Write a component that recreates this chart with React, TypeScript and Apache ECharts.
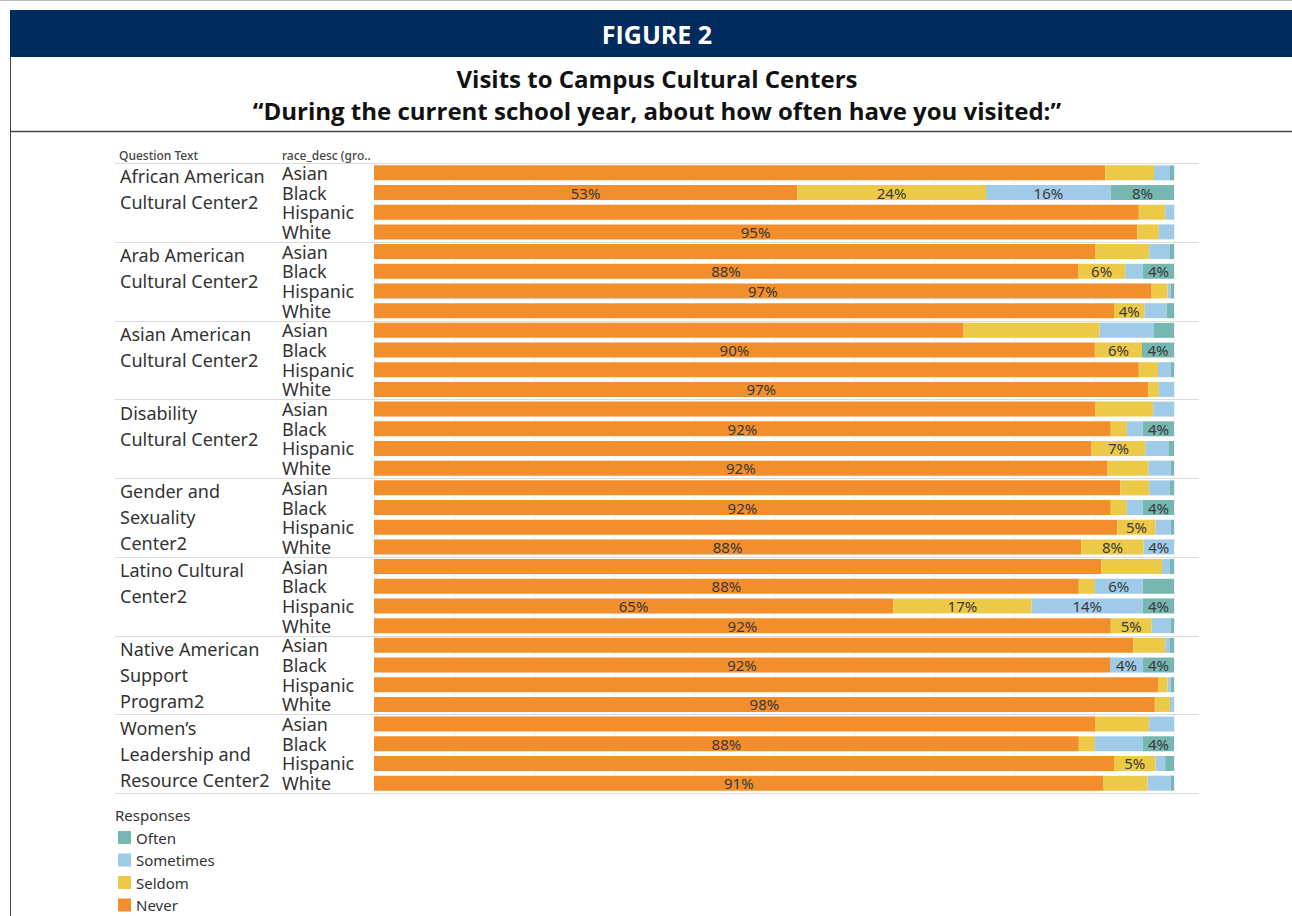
import React, { useEffect, useRef } from "react";
import * as echarts from "echarts";

// ---------- data ----------
const groups = [
  "African American\nCultural Center2",
  "Arab American\nCultural Center2",
  "Asian American\nCultural Center2",
  "Disability\nCultural Center2",
  "Gender and\nSexuality\nCenter2",
  "Latino Cultural\nCenter2",
  "Native American\nSupport\nProgram2",
  "Women\u2019s\nLeadership and\nResource Center2",
];
const races = ["Asian", "Black", "Hispanic", "White"];

const responses = ["Often", "Sometimes", "Seldom", "Never"];

// % per row (group x race, 32 rows)
const never = [
  91.4, 52.9, 95.6, 95.4,
  90.2, 88.0, 97.2, 92.5,
  73.7, 90.1, 95.6, 96.8,
  90.2, 92.1, 89.7, 91.7,
  93.3, 92.1, 92.9, 88.4,
  90.9, 88.1, 64.9, 92.1,
  94.9, 92.0, 98.0, 97.6,
  90.2, 88.1, 92.5, 91.2,
];
const seldom = [
  6.1, 23.6, 3.3, 2.7,
  6.7, 5.9, 2.0, 3.8,
  17.0, 5.9, 2.4, 1.3,
  7.2, 2.0, 6.7, 5.1,
  3.6, 2.0, 4.8, 7.8,
  7.6, 2.0, 17.3, 5.1,
  4.0, 0, 1.2, 1.9,
  6.7, 2.0, 5.2, 5.5,
];
const sometimes = [
  2.0, 15.6, 1.1, 1.9,
  2.6, 2.2, 0.4, 2.8,
  6.8, 0, 1.6, 1.9,
  2.6, 2.0, 2.9, 2.8,
  2.6, 2.0, 1.9, 3.8,
  1.0, 6.0, 13.9, 2.4,
  0.6, 4.1, 0.4, 0.5,
  3.1, 6.0, 1.2, 2.9,
];
const often = [
  0.5, 7.9, 0, 0,
  0.5, 3.9, 0.4, 0.9,
  2.5, 4.0, 0.4, 0,
  0, 3.9, 0.7, 0.4,
  0.5, 3.9, 0.4, 0,
  0.5, 3.9, 3.9, 0.4,
  0.5, 3.9, 0.4, 0,
  0, 3.9, 1.1, 0.4,
];

// rows whose segment shows a value label
const neverLabeled = [1, 3, 5, 6, 9, 11, 13, 15, 17, 19, 21, 22, 23, 25, 27, 29, 31];
const seldomLabeled = [1, 5, 7, 9, 14, 18, 19, 22, 23, 30];
const sometimesLabeled = [1, 19, 21, 22, 25];
const oftenLabeled = [1, 5, 9, 13, 17, 22, 25, 29];

// ---------- style ----------
const COLORS: Record<string, string> = {
  Often: "#76B7B2",
  Sometimes: "#A0CBE8",
  Seldom: "#EDC948",
  Never: "#F28E2B",
};
const NAVY = "#022b5d";
const FONT = '"Noto Sans", sans-serif';
const TITLE_FONT = '"Open Sans", sans-serif';

const GRID_LEFT = 374;
const GRID_TOP = 163;
const GRID_W = 800;
const GRID_H = 630;
const TABLE_LEFT = 115;
const TABLE_RIGHT = 1199;

export default function App() {
  const ref = useRef<HTMLDivElement>(null);

  useEffect(() => {
    if (!ref.current) return;
    const chart = echarts.init(ref.current, undefined, { renderer: "svg" });

    const rowCats: string[] = [];
    groups.forEach((g) => races.forEach((r) => rowCats.push(g + "|" + r)));

    const mk = (vals: number[], labeled: number[]) =>
      vals.map((v, i) => ({ value: v, label: { show: labeled.includes(i) } }));

    const seriesDefs = [
      { name: "Never", vals: never, lab: neverLabeled },
      { name: "Seldom", vals: seldom, lab: seldomLabeled },
      { name: "Sometimes", vals: sometimes, lab: sometimesLabeled },
      { name: "Often", vals: often, lab: oftenLabeled },
    ];

    const groupH = GRID_H / groups.length;
    const sepLines: any[] = [];
    for (let k = 0; k <= groups.length; k++) {
      const y = Math.round(GRID_TOP + k * groupH) + 0.5;
      sepLines.push({
        type: "line",
        shape: { x1: TABLE_LEFT, y1: y, x2: TABLE_RIGHT, y2: y },
        style: { stroke: "#dcdcdc", lineWidth: 1 },
        z: 10,
      });
    }

    const txt = (text: string, x: number, y: number, font: string, fill: string, align = "center") => ({
      type: "text",
      x,
      y,
      style: {
        text,
        fill,
        font,
        align,
        textAlign: align,
        verticalAlign: "middle",
        textVerticalAlign: "middle",
      },
      z: 20,
    });

    chart.setOption({
      animation: false,
      grid: { left: GRID_LEFT, top: GRID_TOP, width: GRID_W, height: GRID_H },
      xAxis: {
        type: "value",
        min: 0,
        max: 100,
        interval: 10,
        axisLabel: { show: false },
        axisLine: { show: false },
        axisTick: { show: false },
        splitLine: { show: true, lineStyle: { color: "#f0f0f0", width: 1 } },
      },
      yAxis: [
        {
          type: "category",
          inverse: true,
          data: rowCats,
          axisLine: { show: false },
          axisTick: { show: false },
          splitLine: { show: false },
          axisLabel: {
            interval: 0,
            align: "left",
            margin: GRID_LEFT - 282,
            fontFamily: FONT,
            fontSize: 18,
            lineHeight: 19,
            color: "#333",
            formatter: (v: string) => v.split("|")[1],
          },
        },
        {
          type: "category",
          inverse: true,
          position: "left",
          offset: 0,
          data: groups,
          axisLine: { show: false },
          axisTick: { show: false },
          splitLine: { show: false },
          axisLabel: {
            interval: 0,
            align: "left",
            margin: GRID_LEFT - 120,
            fontFamily: FONT,
            fontSize: 18,
            lineHeight: 26,
            color: "#333",
            formatter: (v: string) => {
              const n = v.split("\n").length;
              return n < 3 ? v + "\n " : v;
            },
          },
        },
      ],
      legend: {
        orient: "vertical",
        left: 118,
        top: 830,
        height: 90,
        padding: 0,
        data: responses,
        icon: "rect",
        itemWidth: 13,
        itemHeight: 13,
        itemGap: 7.5,
        selectedMode: false,
        textStyle: { fontFamily: FONT, fontSize: 15, color: "#333", lineHeight: 15 },
      },
      series: seriesDefs.map((s) => ({
        name: s.name,
        type: "bar",
        stack: "total",
        yAxisIndex: 0,
        barWidth: 15,
        itemStyle: { color: COLORS[s.name] },
        label: {
          position: "inside",
          fontFamily: FONT,
          fontSize: 15,
          color: "#3a3a3a",
          formatter: (p: any) => Math.round(p.value) + "%",
        },
        data: mk(s.vals, s.lab),
      })),
      graphic: [
        {
          type: "line",
          shape: { x1: 0, y1: 0.5, x2: 1292, y2: 0.5 },
          style: { stroke: "#bbbbbb", lineWidth: 1 },
        },
        { type: "rect", shape: { x: 10, y: 10, width: 1282, height: 47 }, style: { fill: NAVY } },
        txt("FIGURE 2", 657, 34, `bold 25px ${TITLE_FONT}`, "#ffffff"),
        txt("Visits to Campus Cultural Centers", 657, 78, `bold 24px ${TITLE_FONT}`, "#111111"),
        txt(
          "\u201cDuring the current school year, about how often have you visited:\u201d",
          657,
          110,
          `bold 24px ${TITLE_FONT}`,
          "#111111"
        ),
        {
          type: "line",
          shape: { x1: 10.5, y1: 57, x2: 10.5, y2: 916 },
          style: { stroke: "#444444", lineWidth: 1 },
        },
        {
          type: "line",
          shape: { x1: 10, y1: 131.5, x2: 1292, y2: 131.5 },
          style: { stroke: "#444444", lineWidth: 1.5 },
        },
        txt("Question Text", 119, 155, `500 12px ${FONT}`, "#444444", "left"),
        txt("race_desc (gro..", 282, 155, `500 12px ${FONT}`, "#444444", "left"),
        txt("Responses", 115, 815, `15px ${FONT}`, "#333333", "left"),
        ...sepLines,
      ],
    });

    return () => chart.dispose();
  }, []);

  return (
    <div
      ref={ref}
      style={{ position: "fixed", left: 0, top: 0, width: 1292, height: 916, background: "#fff" }}
    />
  );
}
